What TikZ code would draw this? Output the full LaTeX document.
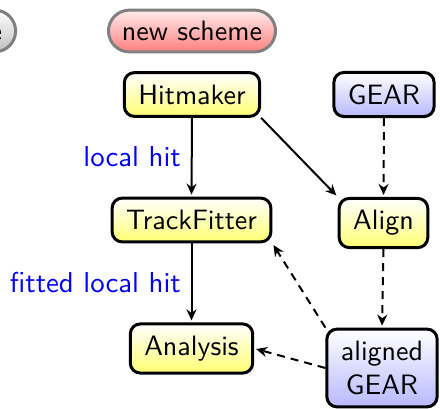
\documentclass[tikz,border=0pt]{standalone}
\usepackage{fontspec}
\setsansfont{lmsans10-regular.otf}
\usetikzlibrary{shapes.misc,arrows.meta}
\begin{document}
\begin{tikzpicture}[x=1pt,y=-1pt,
  font=\sffamily\fontsize{28}{34}\selectfont,
  box/.style={draw, line width=3pt, rounded corners=10pt, inner xsep=14pt, inner ysep=12pt, align=center},
  yel/.style={box, top color=white, bottom color=yellow!55},
  blu/.style={box, top color=white, bottom color=blue!28},
  pill/.style={rounded rectangle, draw=black!50, line width=3pt, inner xsep=11pt, inner ysep=11pt},
  arr/.style={line width=2pt, -{Stealth[length=11pt,width=10pt]}, shorten >=2pt},
  darr/.style={arr, dash pattern=on 8pt off 6pt},
  lab/.style={blue, inner sep=0pt, anchor=base east, font=\sffamily\fontsize{28.8}{34}\selectfont}]
\useasboundingbox (0,0) rectangle (440,409);
\clip (0,0) rectangle (440,409);

\node[pill, top color=white, bottom color=black!25] (old) at (-62.5,31) {old scheme};
\node[pill, top color=red!8, bottom color=red!50] (new) at (192,31) {new scheme};

\node[yel] (hit) at (192,94.5) {Hitmaker};
\node[blu] (gear) at (384,94.5) {GEAR};
\node[yel] (tf) at (191.5,220) {TrackFitter};
\node[yel] (align) at (383.5,223) {Align};
\node[yel] (ana) at (191.5,348.5) {Analysis};
\node[blu] (agear) at (382,368) {aligned\\GEAR};

\draw[arr] (hit.south) -- (tf.north);
\draw[arr] (tf.south) -- (ana.north);
\draw[arr] (hit.south east) -- (align.north west);
\draw[darr] (gear.south) -- (align.north);
\draw[darr] (align.south) -- (agear.north);
\draw[darr] (agear.north west) -- (tf.south east);
\draw[darr] (agear.west) -- (ana.east);

\node[lab] (l1) at (181,167) {local hit};
\node[lab] (l2) at (181,293) {fitted local hit};
\end{tikzpicture}
\end{document}
